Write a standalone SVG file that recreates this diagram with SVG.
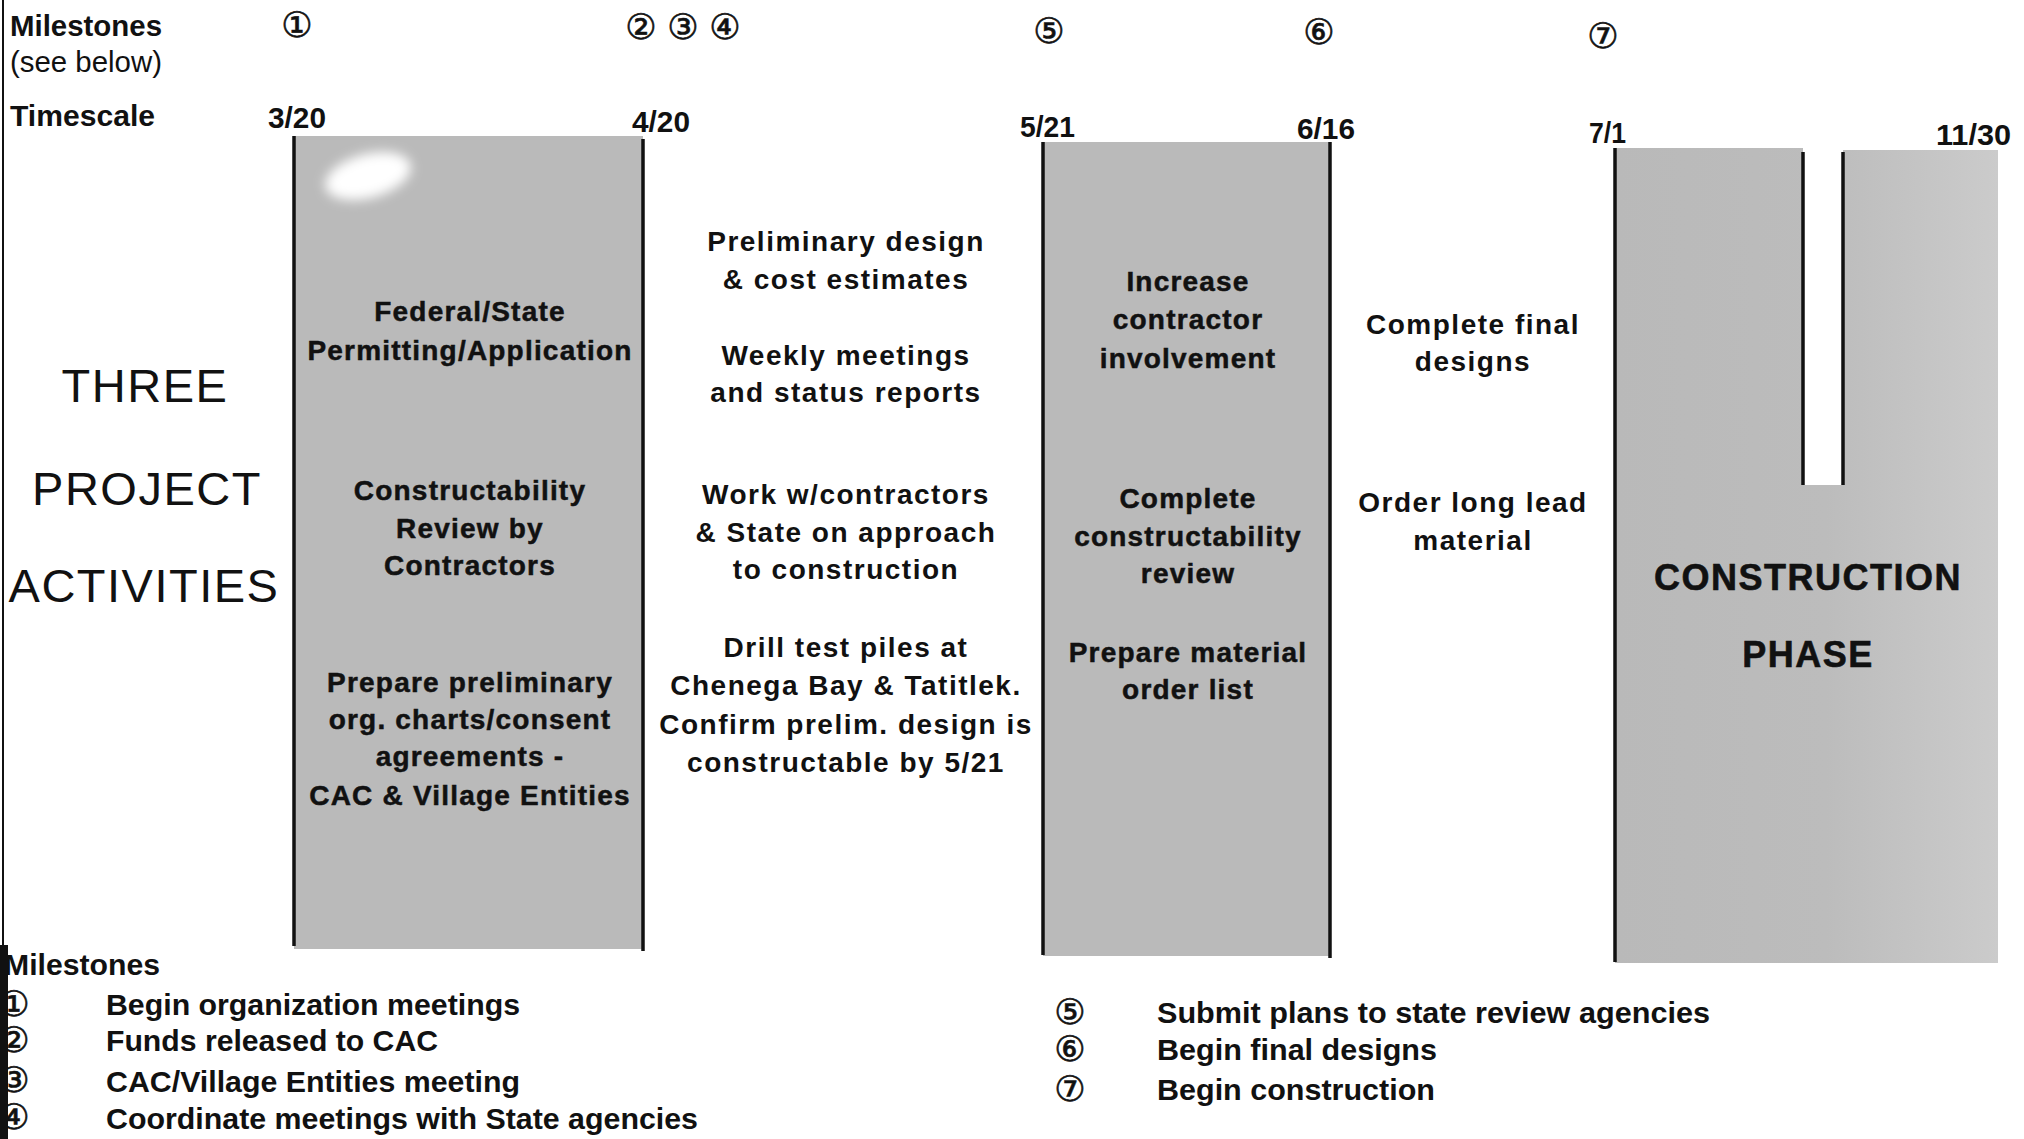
<svg xmlns="http://www.w3.org/2000/svg" width="2024" height="1139" viewBox="0 0 2024 1139">
<defs>
<style>
text{font-family:"Liberation Sans",Arial,sans-serif;fill:#111;}
.hdr{font-weight:bold;font-size:30px;}
.date{font-weight:bold;font-size:30px;}
.num{font-family:"DejaVu Sans","Noto Sans CJK JP",sans-serif;font-size:35px;text-anchor:middle;stroke:#111;stroke-width:0.6px;}
.mid{font-weight:bold;font-size:28px;letter-spacing:1.5px;text-anchor:middle;}
.bar{font-weight:bold;font-size:28px;letter-spacing:1.2px;text-anchor:middle;stroke:#111;stroke-width:0.5px;}
.big{font-size:47px;letter-spacing:1.5px;text-anchor:middle;}
.phase{font-weight:bold;font-size:36px;letter-spacing:1.5px;text-anchor:middle;stroke:#111;stroke-width:0.6px;}
.list{font-weight:bold;font-size:30px;}
.shade{fill:#bababa;}
.edge{stroke:#111;stroke-width:3.5;fill:none;}
</style>
<filter id="blur" x="-50%" y="-50%" width="200%" height="200%"><feGaussianBlur stdDeviation="6"/></filter>
<linearGradient id="g3" x1="0" y1="0" x2="1" y2="0">
<stop offset="0" stop-color="#b9b9b9"/>
<stop offset="0.55" stop-color="#bcbcbc"/>
<stop offset="1" stop-color="#cbcbcb"/>
</linearGradient>
</defs>
<rect width="2024" height="1139" fill="#ffffff"/>

<g id="page-edge">
<line x1="3" y1="0" x2="3" y2="950" stroke="#111" stroke-width="2"/>
</g>

<g id="header">
<text class="hdr" x="10" y="36" textLength="152" lengthAdjust="spacingAndGlyphs">Milestones</text>
<text class="hdr" x="10" y="72" textLength="152" lengthAdjust="spacingAndGlyphs" style="font-weight:normal">(see below)</text>
<text class="hdr" x="10" y="126" textLength="145" lengthAdjust="spacingAndGlyphs">Timescale</text>
<text class="num" x="297" y="25" dominant-baseline="central">①</text>
<text class="num" x="641" y="27" dominant-baseline="central">②</text>
<text class="num" x="683" y="27" dominant-baseline="central">③</text>
<text class="num" x="725" y="27" dominant-baseline="central">④</text>
<text class="num" x="1049" y="31" dominant-baseline="central">⑤</text>
<text class="num" x="1319" y="32" dominant-baseline="central">⑥</text>
<text class="num" x="1603" y="36" dominant-baseline="central">⑦</text>
<text class="date" x="268" y="128" textLength="58" lengthAdjust="spacingAndGlyphs">3/20</text>
<text class="date" x="632" y="132" textLength="58" lengthAdjust="spacingAndGlyphs">4/20</text>
<text class="date" x="1020" y="137" textLength="55" lengthAdjust="spacingAndGlyphs">5/21</text>
<text class="date" x="1297" y="139" textLength="58" lengthAdjust="spacingAndGlyphs">6/16</text>
<text class="date" x="1589" y="143" textLength="37" lengthAdjust="spacingAndGlyphs">7/1</text>
<text class="date" x="1936" y="145" textLength="75" lengthAdjust="spacingAndGlyphs">11/30</text>
</g>

<g id="title">
<text class="big" x="145" y="402">THREE</text>
<text class="big" x="147" y="505">PROJECT</text>
<text class="big" x="144" y="602">ACTIVITIES</text>
</g>

<g id="phase1">
<rect class="shade" x="294" y="136" width="349" height="813"/>
<ellipse cx="368" cy="176" rx="44" ry="22" transform="rotate(-15 368 176)" fill="#ffffff" filter="url(#blur)"/>
<line class="edge" x1="294" y1="136" x2="294" y2="946"/>
<line class="edge" x1="643" y1="139" x2="643" y2="951"/>
<text class="bar" x="470" y="321">Federal/State</text>
<text class="bar" x="470" y="360">Permitting/Application</text>
<text class="bar" x="470" y="500">Constructability</text>
<text class="bar" x="470" y="538">Review by</text>
<text class="bar" x="470" y="575">Contractors</text>
<text class="bar" x="470" y="692">Prepare preliminary</text>
<text class="bar" x="470" y="729">org. charts/consent</text>
<text class="bar" x="470" y="766">agreements -</text>
<text class="bar" x="470" y="805">CAC &amp; Village Entities</text>
</g>

<g id="phase1-gap">
<text class="mid" x="846" y="251">Preliminary design</text>
<text class="mid" x="846" y="289">&amp; cost estimates</text>
<text class="mid" x="846" y="365">Weekly meetings</text>
<text class="mid" x="846" y="402">and status reports</text>
<text class="mid" x="846" y="504">Work w/contractors</text>
<text class="mid" x="846" y="542">&amp; State on approach</text>
<text class="mid" x="846" y="579">to construction</text>
<text class="mid" x="846" y="657">Drill test piles at</text>
<text class="mid" x="846" y="695">Chenega Bay &amp; Tatitlek.</text>
<text class="mid" x="846" y="734">Confirm prelim. design is</text>
<text class="mid" x="846" y="772">constructable by 5/21</text>
</g>

<g id="phase2">
<rect class="shade" x="1043" y="142" width="287" height="814"/>
<line class="edge" x1="1043" y1="142" x2="1043" y2="955"/>
<line class="edge" x1="1330" y1="142" x2="1330" y2="958"/>
<text class="bar" x="1188" y="291">Increase</text>
<text class="bar" x="1188" y="329">contractor</text>
<text class="bar" x="1188" y="368">involvement</text>
<text class="bar" x="1188" y="508">Complete</text>
<text class="bar" x="1188" y="546">constructability</text>
<text class="bar" x="1188" y="583">review</text>
<text class="bar" x="1188" y="662">Prepare material</text>
<text class="bar" x="1188" y="699">order list</text>
</g>

<g id="phase2-gap">
<text class="mid" x="1473" y="334">Complete final</text>
<text class="mid" x="1473" y="371">designs</text>
<text class="mid" x="1473" y="512">Order long lead</text>
<text class="mid" x="1473" y="550">material</text>
</g>

<g id="construction">
<path d="M1615 148 H1803 V485 H1843 V150 H1998 V963 H1615 Z" fill="url(#g3)"/>
<line class="edge" x1="1615" y1="148" x2="1615" y2="962"/>
<line class="edge" x1="1803" y1="152" x2="1803" y2="485"/>
<line class="edge" x1="1843" y1="152" x2="1843" y2="485"/>
<text class="phase" x="1808" y="590">CONSTRUCTION</text>
<text class="phase" x="1808" y="667">PHASE</text>
</g>

<g id="legend">
<text class="list" x="4" y="975" textLength="156" lengthAdjust="spacingAndGlyphs">Milestones</text>
<text class="num" x="14" y="1004" dominant-baseline="central">①</text>
<text class="num" x="14" y="1040" dominant-baseline="central">②</text>
<text class="num" x="14" y="1080" dominant-baseline="central">③</text>
<text class="num" x="14" y="1117" dominant-baseline="central">④</text>
<text class="list" x="106" y="1015" textLength="414" lengthAdjust="spacingAndGlyphs">Begin organization meetings</text>
<text class="list" x="106" y="1051" textLength="332" lengthAdjust="spacingAndGlyphs">Funds released to CAC</text>
<text class="list" x="106" y="1092" textLength="414" lengthAdjust="spacingAndGlyphs">CAC/Village Entities meeting</text>
<text class="list" x="106" y="1129" textLength="592" lengthAdjust="spacingAndGlyphs">Coordinate meetings with State agencies</text>
<text class="num" x="1070" y="1012" dominant-baseline="central">⑤</text>
<text class="num" x="1070" y="1049" dominant-baseline="central">⑥</text>
<text class="num" x="1070" y="1089" dominant-baseline="central">⑦</text>
<text class="list" x="1157" y="1023" textLength="553" lengthAdjust="spacingAndGlyphs">Submit plans to state review agencies</text>
<text class="list" x="1157" y="1060" textLength="280" lengthAdjust="spacingAndGlyphs">Begin final designs</text>
<text class="list" x="1157" y="1100" textLength="278" lengthAdjust="spacingAndGlyphs">Begin construction</text>
<rect x="0" y="945" width="8" height="194" fill="#111"/>
</g>

<g id="connectors"></g>
</svg>
